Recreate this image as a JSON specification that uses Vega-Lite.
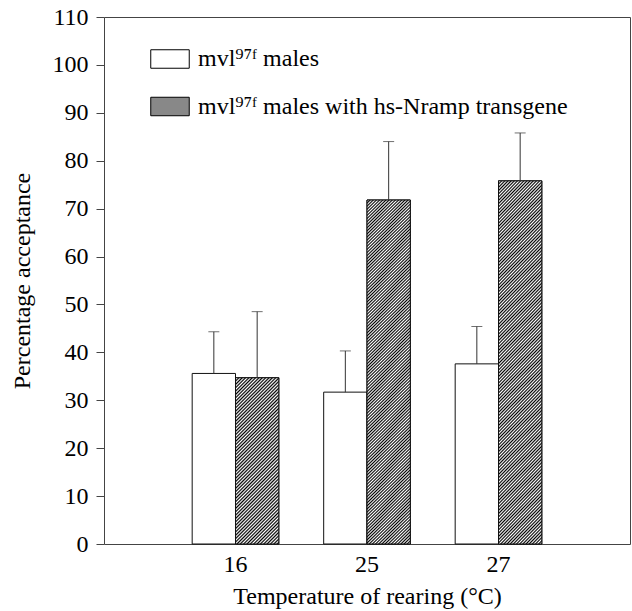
{
"$schema": "https://vega.github.io/schema/vega-lite/v6.json",
"width": 526,
"height": 527,
"autosize": {"type": "none"},
"padding": {"left": 104, "top": 17, "right": 2, "bottom": 67},
"background": "white",
"data": {"values": [
{"temp": "16", "group": "open", "value": 35.6, "upper": 44.3},
{"temp": "16", "group": "hatched", "value": 34.7, "upper": 48.5},
{"temp": "25", "group": "open", "value": 31.7, "upper": 40.3},
{"temp": "25", "group": "hatched", "value": 71.8, "upper": 84.0},
{"temp": "27", "group": "open", "value": 37.6, "upper": 45.4},
{"temp": "27", "group": "hatched", "value": 75.8, "upper": 85.8}
]},
"encoding": {
"x": {"field": "temp", "type": "nominal", "title": "Temperature of rearing (°C)",
 "scale": {"domain": ["16", "25", "27"], "paddingInner": 0, "paddingOuter": 0.5},
 "axis": {"labelAngle": 0, "ticks": false, "tickSize": 0, "labelPadding": 8, "titlePadding": 8}},
"xOffset": {"field": "group", "type": "nominal", "scale": {"domain": ["open", "hatched"], "paddingInner": 0, "paddingOuter": 0.518}},
"y": {"field": "value", "type": "quantitative", "title": "Percentage acceptance",
 "scale": {"domain": [0, 110], "nice": false, "zero": true},
 "axis": {"values": [0, 10, 20, 30, 40, 50, 60, 70, 80, 90, 100, 110], "tickSize": 8, "labelPadding": 8, "titlePadding": 18}}
},
"layer": [
{"mark": {"type": "bar", "stroke": "#111", "strokeWidth": 1},
 "encoding": {"fill": {"field": "group", "type": "nominal",
  "scale": {"domain": ["open", "hatched"], "range": ["#ffffff", "#888888"]},
  "legend": {"orient": "none", "legendX": 46, "legendY": 22, "title": null, "padding": 0, "rowPadding": 15.5,
   "symbolType": "M-1,-0.48H1V0.48H-1Z", "symbolSize": 1482, "symbolStrokeColor": "#000", "symbolStrokeWidth": 1, "symbolOpacity": 1,
   "labelFont": "Liberation Serif", "labelFontSize": 24, "labelColor": "#000", "labelOffset": 8, "labelLimit": 600,
   "labelExpr": "datum.value === 'open' ? 'mvl⁹⁷ᶠ males' : 'mvl⁹⁷ᶠ males with hs-Nramp transgene'",
   "encode": {
    "labels": {"update": {"font": {"value": "Liberation Serif"}, "fontSize": {"value": 24}}},
    "symbols": {"update": {"stroke": {"value": "#000"}, "strokeWidth": {"value": 1},
     "fill": {"value": {"expr": "datum.value === 'hatched' ? {gradient: 'linear', x1: 0, y1: 0, x2: 1.203, y2: 0.578, stops: [{offset: 0, color: '#000'}, {offset: 0.03, color: '#fff'}, {offset: 0.06, color: '#000'}, {offset: 0.09, color: '#fff'}, {offset: 0.12, color: '#000'}, {offset: 0.15, color: '#fff'}, {offset: 0.18, color: '#000'}, {offset: 0.21, color: '#fff'}, {offset: 0.24, color: '#000'}, {offset: 0.27, color: '#fff'}, {offset: 0.3, color: '#000'}, {offset: 0.33, color: '#fff'}, {offset: 0.36, color: '#000'}, {offset: 0.39, color: '#fff'}, {offset: 0.42, color: '#000'}, {offset: 0.45, color: '#fff'}, {offset: 0.48, color: '#000'}, {offset: 0.51, color: '#fff'}, {offset: 0.54, color: '#000'}, {offset: 0.57, color: '#fff'}, {offset: 0.6, color: '#000'}, {offset: 0.63, color: '#fff'}, {offset: 0.66, color: '#000'}, {offset: 0.69, color: '#fff'}, {offset: 0.72, color: '#000'}, {offset: 0.75, color: '#fff'}, {offset: 0.78, color: '#000'}, {offset: 0.81, color: '#fff'}, {offset: 0.84, color: '#000'}, {offset: 0.87, color: '#fff'}, {offset: 0.9, color: '#000'}, {offset: 0.93, color: '#fff'}, {offset: 0.96, color: '#000'}, {offset: 0.99, color: '#fff'}]} : '#ffffff'"}}}}}
  }}}
},
{"transform": [{"filter": "datum.group === 'hatched' && datum.temp === '16'"}],
 "mark": {"type": "bar", "stroke": "#111", "strokeWidth": 1,
  "fill": {"gradient": "linear", "x1": 0, "y1": 0, "x2": 0.3075, "y2": 1.1805, "stops": [
{"offset":0,"color":"#000"},{"offset":0.008,"color":"#fff"},{"offset":0.016,"color":"#000"},{"offset":0.024,"color":"#fff"},{"offset":0.032,"color":"#000"},{"offset":0.04,"color":"#fff"},{"offset":0.048,"color":"#000"},{"offset":0.056,"color":"#fff"},{"offset":0.064,"color":"#000"},{"offset":0.072,"color":"#fff"},{"offset":0.08,"color":"#000"},{"offset":0.088,"color":"#fff"},{"offset":0.096,"color":"#000"},{"offset":0.104,"color":"#fff"},{"offset":0.112,"color":"#000"},{"offset":0.12,"color":"#fff"},{"offset":0.128,"color":"#000"},{"offset":0.136,"color":"#fff"},{"offset":0.144,"color":"#000"},{"offset":0.152,"color":"#fff"},{"offset":0.16,"color":"#000"},{"offset":0.168,"color":"#fff"},{"offset":0.176,"color":"#000"},{"offset":0.184,"color":"#fff"},{"offset":0.192,"color":"#000"},{"offset":0.2,"color":"#fff"},{"offset":0.208,"color":"#000"},{"offset":0.216,"color":"#fff"},{"offset":0.224,"color":"#000"},{"offset":0.232,"color":"#fff"},{"offset":0.24,"color":"#000"},{"offset":0.248,"color":"#fff"},{"offset":0.256,"color":"#000"},{"offset":0.264,"color":"#fff"},{"offset":0.272,"color":"#000"},{"offset":0.28,"color":"#fff"},{"offset":0.288,"color":"#000"},{"offset":0.296,"color":"#fff"},{"offset":0.304,"color":"#000"},{"offset":0.312,"color":"#fff"},{"offset":0.32,"color":"#000"},{"offset":0.328,"color":"#fff"},{"offset":0.336,"color":"#000"},{"offset":0.344,"color":"#fff"},{"offset":0.352,"color":"#000"},{"offset":0.36,"color":"#fff"},{"offset":0.368,"color":"#000"},{"offset":0.376,"color":"#fff"},{"offset":0.384,"color":"#000"},{"offset":0.392,"color":"#fff"},{"offset":0.4,"color":"#000"},{"offset":0.408,"color":"#fff"},{"offset":0.416,"color":"#000"},{"offset":0.424,"color":"#fff"},{"offset":0.432,"color":"#000"},{"offset":0.44,"color":"#fff"},{"offset":0.448,"color":"#000"},{"offset":0.456,"color":"#fff"},{"offset":0.464,"color":"#000"},{"offset":0.472,"color":"#fff"},{"offset":0.48,"color":"#000"},{"offset":0.488,"color":"#fff"},{"offset":0.496,"color":"#000"},{"offset":0.504,"color":"#fff"},{"offset":0.512,"color":"#000"},{"offset":0.52,"color":"#fff"},{"offset":0.528,"color":"#000"},{"offset":0.536,"color":"#fff"},{"offset":0.544,"color":"#000"},{"offset":0.552,"color":"#fff"},{"offset":0.56,"color":"#000"},{"offset":0.568,"color":"#fff"},{"offset":0.576,"color":"#000"},{"offset":0.584,"color":"#fff"},{"offset":0.592,"color":"#000"},{"offset":0.6,"color":"#fff"},{"offset":0.608,"color":"#000"},{"offset":0.616,"color":"#fff"},{"offset":0.624,"color":"#000"},{"offset":0.632,"color":"#fff"},{"offset":0.64,"color":"#000"},{"offset":0.648,"color":"#fff"},{"offset":0.656,"color":"#000"},{"offset":0.664,"color":"#fff"},{"offset":0.672,"color":"#000"},{"offset":0.68,"color":"#fff"},{"offset":0.688,"color":"#000"},{"offset":0.696,"color":"#fff"},{"offset":0.704,"color":"#000"},{"offset":0.712,"color":"#fff"},{"offset":0.72,"color":"#000"},{"offset":0.728,"color":"#fff"},{"offset":0.736,"color":"#000"},{"offset":0.744,"color":"#fff"},{"offset":0.752,"color":"#000"},{"offset":0.76,"color":"#fff"},{"offset":0.768,"color":"#000"},{"offset":0.776,"color":"#fff"},{"offset":0.784,"color":"#000"},{"offset":0.792,"color":"#fff"},{"offset":0.8,"color":"#000"},{"offset":0.808,"color":"#fff"},{"offset":0.816,"color":"#000"},{"offset":0.824,"color":"#fff"},{"offset":0.832,"color":"#000"},{"offset":0.84,"color":"#fff"},{"offset":0.848,"color":"#000"},{"offset":0.856,"color":"#fff"},{"offset":0.864,"color":"#000"},{"offset":0.872,"color":"#fff"},{"offset":0.88,"color":"#000"},{"offset":0.888,"color":"#fff"},{"offset":0.896,"color":"#000"},{"offset":0.904,"color":"#fff"},{"offset":0.912,"color":"#000"},{"offset":0.92,"color":"#fff"},{"offset":0.928,"color":"#000"},{"offset":0.936,"color":"#fff"},{"offset":0.944,"color":"#000"},{"offset":0.952,"color":"#fff"},{"offset":0.96,"color":"#000"},{"offset":0.968,"color":"#fff"},{"offset":0.976,"color":"#000"},{"offset":0.984,"color":"#fff"},{"offset":0.992,"color":"#000"},{"offset":1,"color":"#fff"}
 ]}}
},
{"transform": [{"filter": "datum.group === 'hatched' && datum.temp !== '16'"}],
 "mark": {"type": "bar", "stroke": "#111", "strokeWidth": 1,
  "fill": {"gradient": "linear", "x1": 0, "y1": 0, "x2": 0.1361, "y2": 1.1063, "stops": [
{"offset":0,"color":"#000"},{"offset":0.004,"color":"#fff"},{"offset":0.008,"color":"#000"},{"offset":0.012,"color":"#fff"},{"offset":0.016,"color":"#000"},{"offset":0.02,"color":"#fff"},{"offset":0.024,"color":"#000"},{"offset":0.028,"color":"#fff"},{"offset":0.032,"color":"#000"},{"offset":0.036,"color":"#fff"},{"offset":0.04,"color":"#000"},{"offset":0.044,"color":"#fff"},{"offset":0.048,"color":"#000"},{"offset":0.052,"color":"#fff"},{"offset":0.056,"color":"#000"},{"offset":0.06,"color":"#fff"},{"offset":0.064,"color":"#000"},{"offset":0.068,"color":"#fff"},{"offset":0.072,"color":"#000"},{"offset":0.076,"color":"#fff"},{"offset":0.08,"color":"#000"},{"offset":0.084,"color":"#fff"},{"offset":0.088,"color":"#000"},{"offset":0.092,"color":"#fff"},{"offset":0.096,"color":"#000"},{"offset":0.1,"color":"#fff"},{"offset":0.104,"color":"#000"},{"offset":0.108,"color":"#fff"},{"offset":0.112,"color":"#000"},{"offset":0.116,"color":"#fff"},{"offset":0.12,"color":"#000"},{"offset":0.124,"color":"#fff"},{"offset":0.128,"color":"#000"},{"offset":0.132,"color":"#fff"},{"offset":0.136,"color":"#000"},{"offset":0.14,"color":"#fff"},{"offset":0.144,"color":"#000"},{"offset":0.148,"color":"#fff"},{"offset":0.152,"color":"#000"},{"offset":0.156,"color":"#fff"},{"offset":0.16,"color":"#000"},{"offset":0.164,"color":"#fff"},{"offset":0.168,"color":"#000"},{"offset":0.172,"color":"#fff"},{"offset":0.176,"color":"#000"},{"offset":0.18,"color":"#fff"},{"offset":0.184,"color":"#000"},{"offset":0.188,"color":"#fff"},{"offset":0.192,"color":"#000"},{"offset":0.196,"color":"#fff"},{"offset":0.2,"color":"#000"},{"offset":0.204,"color":"#fff"},{"offset":0.208,"color":"#000"},{"offset":0.212,"color":"#fff"},{"offset":0.216,"color":"#000"},{"offset":0.22,"color":"#fff"},{"offset":0.224,"color":"#000"},{"offset":0.228,"color":"#fff"},{"offset":0.232,"color":"#000"},{"offset":0.236,"color":"#fff"},{"offset":0.24,"color":"#000"},{"offset":0.244,"color":"#fff"},{"offset":0.248,"color":"#000"},{"offset":0.252,"color":"#fff"},{"offset":0.256,"color":"#000"},{"offset":0.26,"color":"#fff"},{"offset":0.264,"color":"#000"},{"offset":0.268,"color":"#fff"},{"offset":0.272,"color":"#000"},{"offset":0.276,"color":"#fff"},{"offset":0.28,"color":"#000"},{"offset":0.284,"color":"#fff"},{"offset":0.288,"color":"#000"},{"offset":0.292,"color":"#fff"},{"offset":0.296,"color":"#000"},{"offset":0.3,"color":"#fff"},{"offset":0.304,"color":"#000"},{"offset":0.308,"color":"#fff"},{"offset":0.312,"color":"#000"},{"offset":0.316,"color":"#fff"},{"offset":0.32,"color":"#000"},{"offset":0.324,"color":"#fff"},{"offset":0.328,"color":"#000"},{"offset":0.332,"color":"#fff"},{"offset":0.336,"color":"#000"},{"offset":0.34,"color":"#fff"},{"offset":0.344,"color":"#000"},{"offset":0.348,"color":"#fff"},{"offset":0.352,"color":"#000"},{"offset":0.356,"color":"#fff"},{"offset":0.36,"color":"#000"},{"offset":0.364,"color":"#fff"},{"offset":0.368,"color":"#000"},{"offset":0.372,"color":"#fff"},{"offset":0.376,"color":"#000"},{"offset":0.38,"color":"#fff"},{"offset":0.384,"color":"#000"},{"offset":0.388,"color":"#fff"},{"offset":0.392,"color":"#000"},{"offset":0.396,"color":"#fff"},{"offset":0.4,"color":"#000"},{"offset":0.404,"color":"#fff"},{"offset":0.408,"color":"#000"},{"offset":0.412,"color":"#fff"},{"offset":0.416,"color":"#000"},{"offset":0.42,"color":"#fff"},{"offset":0.424,"color":"#000"},{"offset":0.428,"color":"#fff"},{"offset":0.432,"color":"#000"},{"offset":0.436,"color":"#fff"},{"offset":0.44,"color":"#000"},{"offset":0.444,"color":"#fff"},{"offset":0.448,"color":"#000"},{"offset":0.452,"color":"#fff"},{"offset":0.456,"color":"#000"},{"offset":0.46,"color":"#fff"},{"offset":0.464,"color":"#000"},{"offset":0.468,"color":"#fff"},{"offset":0.472,"color":"#000"},{"offset":0.476,"color":"#fff"},{"offset":0.48,"color":"#000"},{"offset":0.484,"color":"#fff"},{"offset":0.488,"color":"#000"},{"offset":0.492,"color":"#fff"},{"offset":0.496,"color":"#000"},{"offset":0.5,"color":"#fff"},{"offset":0.504,"color":"#000"},{"offset":0.508,"color":"#fff"},{"offset":0.512,"color":"#000"},{"offset":0.516,"color":"#fff"},{"offset":0.52,"color":"#000"},{"offset":0.524,"color":"#fff"},{"offset":0.528,"color":"#000"},{"offset":0.532,"color":"#fff"},{"offset":0.536,"color":"#000"},{"offset":0.54,"color":"#fff"},{"offset":0.544,"color":"#000"},{"offset":0.548,"color":"#fff"},{"offset":0.552,"color":"#000"},{"offset":0.556,"color":"#fff"},{"offset":0.56,"color":"#000"},{"offset":0.564,"color":"#fff"},{"offset":0.568,"color":"#000"},{"offset":0.572,"color":"#fff"},{"offset":0.576,"color":"#000"},{"offset":0.58,"color":"#fff"},{"offset":0.584,"color":"#000"},{"offset":0.588,"color":"#fff"},{"offset":0.592,"color":"#000"},{"offset":0.596,"color":"#fff"},{"offset":0.6,"color":"#000"},{"offset":0.604,"color":"#fff"},{"offset":0.608,"color":"#000"},{"offset":0.612,"color":"#fff"},{"offset":0.616,"color":"#000"},{"offset":0.62,"color":"#fff"},{"offset":0.624,"color":"#000"},{"offset":0.628,"color":"#fff"},{"offset":0.632,"color":"#000"},{"offset":0.636,"color":"#fff"},{"offset":0.64,"color":"#000"},{"offset":0.644,"color":"#fff"},{"offset":0.648,"color":"#000"},{"offset":0.652,"color":"#fff"},{"offset":0.656,"color":"#000"},{"offset":0.66,"color":"#fff"},{"offset":0.664,"color":"#000"},{"offset":0.668,"color":"#fff"},{"offset":0.672,"color":"#000"},{"offset":0.676,"color":"#fff"},{"offset":0.68,"color":"#000"},{"offset":0.684,"color":"#fff"},{"offset":0.688,"color":"#000"},{"offset":0.692,"color":"#fff"},{"offset":0.696,"color":"#000"},{"offset":0.7,"color":"#fff"},{"offset":0.704,"color":"#000"},{"offset":0.708,"color":"#fff"},{"offset":0.712,"color":"#000"},{"offset":0.716,"color":"#fff"},{"offset":0.72,"color":"#000"},{"offset":0.724,"color":"#fff"},{"offset":0.728,"color":"#000"},{"offset":0.732,"color":"#fff"},{"offset":0.736,"color":"#000"},{"offset":0.74,"color":"#fff"},{"offset":0.744,"color":"#000"},{"offset":0.748,"color":"#fff"},{"offset":0.752,"color":"#000"},{"offset":0.756,"color":"#fff"},{"offset":0.76,"color":"#000"},{"offset":0.764,"color":"#fff"},{"offset":0.768,"color":"#000"},{"offset":0.772,"color":"#fff"},{"offset":0.776,"color":"#000"},{"offset":0.78,"color":"#fff"},{"offset":0.784,"color":"#000"},{"offset":0.788,"color":"#fff"},{"offset":0.792,"color":"#000"},{"offset":0.796,"color":"#fff"},{"offset":0.8,"color":"#000"},{"offset":0.804,"color":"#fff"},{"offset":0.808,"color":"#000"},{"offset":0.812,"color":"#fff"},{"offset":0.816,"color":"#000"},{"offset":0.82,"color":"#fff"},{"offset":0.824,"color":"#000"},{"offset":0.828,"color":"#fff"},{"offset":0.832,"color":"#000"},{"offset":0.836,"color":"#fff"},{"offset":0.84,"color":"#000"},{"offset":0.844,"color":"#fff"},{"offset":0.848,"color":"#000"},{"offset":0.852,"color":"#fff"},{"offset":0.856,"color":"#000"},{"offset":0.86,"color":"#fff"},{"offset":0.864,"color":"#000"},{"offset":0.868,"color":"#fff"},{"offset":0.872,"color":"#000"},{"offset":0.876,"color":"#fff"},{"offset":0.88,"color":"#000"},{"offset":0.884,"color":"#fff"},{"offset":0.888,"color":"#000"},{"offset":0.892,"color":"#fff"},{"offset":0.896,"color":"#000"},{"offset":0.9,"color":"#fff"},{"offset":0.904,"color":"#000"},{"offset":0.908,"color":"#fff"},{"offset":0.912,"color":"#000"},{"offset":0.916,"color":"#fff"},{"offset":0.92,"color":"#000"},{"offset":0.924,"color":"#fff"},{"offset":0.928,"color":"#000"},{"offset":0.932,"color":"#fff"},{"offset":0.936,"color":"#000"},{"offset":0.94,"color":"#fff"},{"offset":0.944,"color":"#000"},{"offset":0.948,"color":"#fff"},{"offset":0.952,"color":"#000"},{"offset":0.956,"color":"#fff"},{"offset":0.96,"color":"#000"},{"offset":0.964,"color":"#fff"},{"offset":0.968,"color":"#000"},{"offset":0.972,"color":"#fff"},{"offset":0.976,"color":"#000"},{"offset":0.98,"color":"#fff"},{"offset":0.984,"color":"#000"},{"offset":0.988,"color":"#fff"},{"offset":0.992,"color":"#000"},{"offset":0.996,"color":"#fff"},{"offset":1,"color":"#000"}
 ]}}
},
{"mark": {"type": "rule", "color": "#333", "strokeWidth": 1},
 "encoding": {"y": {"field": "value", "type": "quantitative"}, "y2": {"field": "upper"}}},
{"mark": {"type": "tick", "color": "#333", "size": 11, "thickness": 1},
 "encoding": {"y": {"field": "upper", "type": "quantitative"}}}
],
"config": {
 "font": "Liberation Serif",
 "view": {"stroke": "#444", "strokeWidth": 1},
 "axis": {"labelFont": "Liberation Serif", "titleFont": "Liberation Serif", "labelFontSize": 24, "titleFontSize": 24,
  "titleFontWeight": "normal", "labelColor": "#000", "titleColor": "#000", "grid": false, "domain": false, "tickColor": "#444"},
 "legend": {"labelFont": "Liberation Serif"}
}
}
